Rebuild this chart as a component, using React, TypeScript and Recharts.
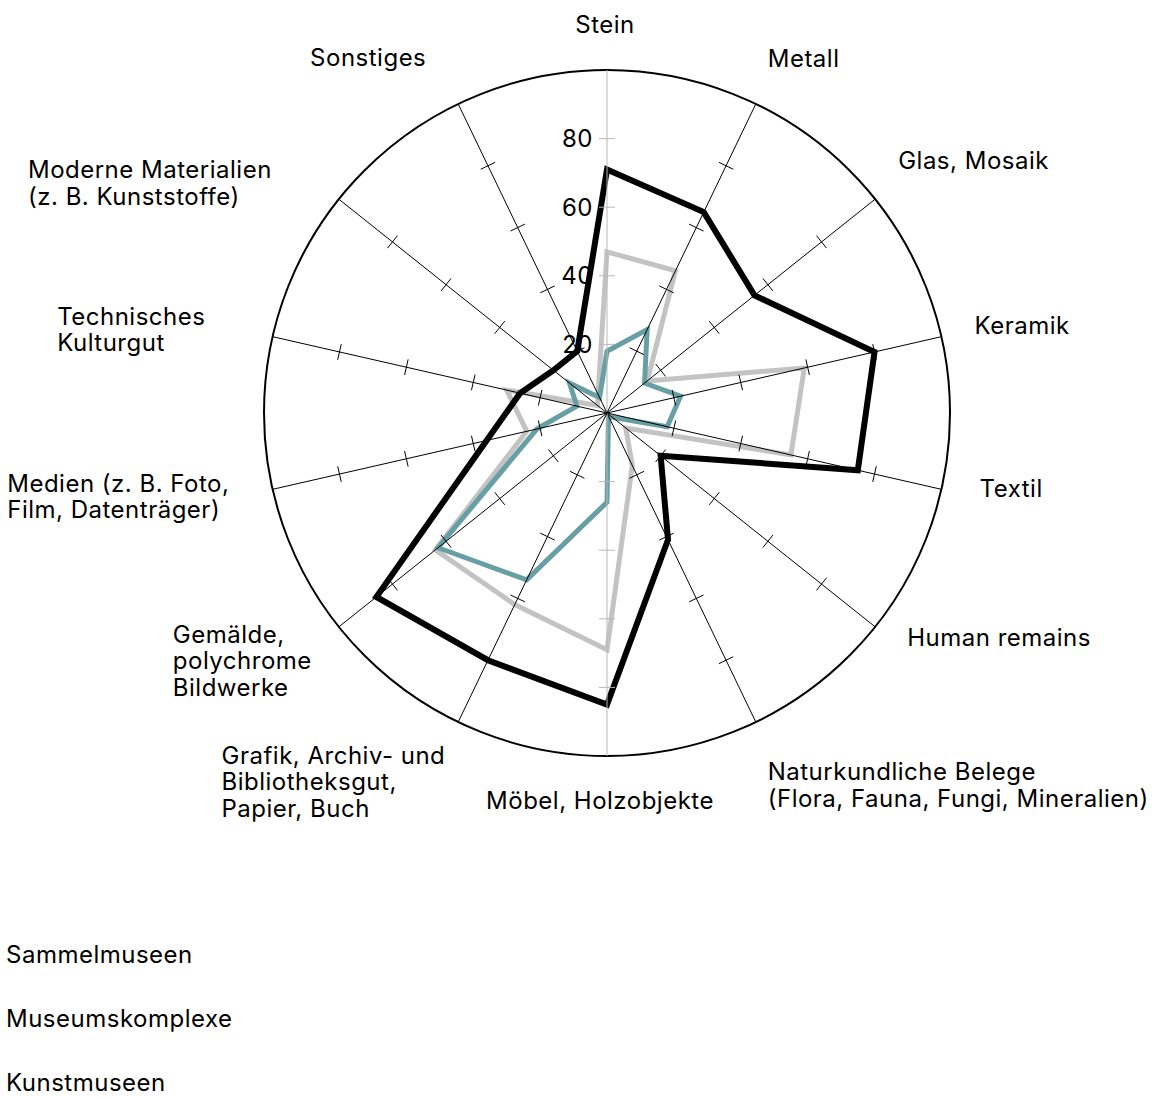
import React from "react";
import { RadarChart, Radar, PolarAngleAxis, PolarRadiusAxis, Legend } from "recharts";

// categories, clockwise from the top
const CATEGORIES = [
  "Stein",
  "Metall",
  "Glas, Mosaik",
  "Keramik",
  "Textil",
  "Human remains",
  "Naturkundliche Belege\n(Flora, Fauna, Fungi, Mineralien)",
  "Möbel, Holzobjekte",
  "Grafik, Archiv- und\nBibliotheksgut,\nPapier, Buch",
  "Gemälde,\npolychrome\nBildwerke",
  "Medien (z. B. Foto,\nFilm, Datenträger)",
  "Technisches\nKulturgut",
  "Moderne Materialien\n(z. B. Kunststoffe)",
  "Sonstiges",
];

// share of museums (%) per material
const SAMMELMUSEEN = [47, 46, 15, 59, 55, 7, 17, 69, 62, 64, 24, 30, 3.5, 6];
const MUSEUMSKOMPLEXE = [71, 65, 55, 80, 75, 20, 41, 85, 80, 86, 36, 26, 20, 20];
const KUNSTMUSEEN = [18, 27, 14, 22, 18, 2, 1, 26, 54, 63, 21, 9, 14, 5];

const SERIES = ["Sammelmuseen", "Museumskomplexe", "Kunstmuseen"];

const data = CATEGORIES.map((name, i) => ({
  name,
  Sammelmuseen: SAMMELMUSEEN[i],
  Museumskomplexe: MUSEUMSKOMPLEXE[i],
  Kunstmuseen: KUNSTMUSEEN[i],
}));

const FONT = "Inter, 'Noto Sans', sans-serif";
const FS = 24;
const LS = 0.5;
const LINE_H = 26.5;
const TICK_HALF = 8;
const AXIS_GRAY = "#b8b8b8";

// small per-label nudges (dx, dy) off the label ring
const LABEL_NUDGE: [number, number][] = [
  [-2, -13], [-2, -17], [-2, -19], [2, -4], [7, -8], [7, -9], [-2, 34],
  [-7, 13], [1, 31], [-2, 14], [-12, 0], [-36, 0], [-42, 4], [-18, -18],
];

let ctx: CanvasRenderingContext2D | null = null;
function textWidth(s: string) {
  if (!ctx) ctx = document.createElement("canvas").getContext("2d");
  if (!ctx) return s.length * (FS * 0.55 + LS);
  ctx.font = `${FS}px Inter`;
  return ctx.measureText(s).width + s.length * LS;
}

function AngleTick(props: any) {
  const { x, y, payload } = props;
  const idx = CATEGORIES.indexOf(payload.value);
  const lines: string[] = String(payload.value).split("\n");
  const cos = Math.cos((payload.coordinate * Math.PI) / 180);
  const [nx, ny] = LABEL_NUDGE[idx] ?? [0, 0];
  const w = Math.max(...lines.map(textWidth));
  let left = x + nx;
  if (Math.abs(cos) < 0.01) left = x + nx - w / 2;
  else if (cos < 0) left = x + nx - w;
  const top = y + ny - ((lines.length - 1) * LINE_H) / 2;
  return (
    <text fontFamily={FONT} fontSize={FS} letterSpacing={LS} fill="#000">
      {lines.map((l, i) => (
        <tspan key={i} x={left} y={top + i * LINE_H} dy="0.35em">
          {l}
        </tspan>
      ))}
    </text>
  );
}

function makeSpokeTick(angle: number, color: string, showLabel: boolean) {
  const rad = (angle * Math.PI) / 180;
  const px = Math.sin(rad);
  const py = Math.cos(rad);
  return (props: any) => {
    const { x, y, payload } = props;
    if (payload.value <= 0 || payload.value >= 100) return <g />;
    return (
      <g>
        <line
          x1={x - px * TICK_HALF}
          y1={y - py * TICK_HALF}
          x2={x + px * TICK_HALF}
          y2={y + py * TICK_HALF}
          stroke={color}
          strokeWidth={1}
        />
        {showLabel && (
          <text x={x - 14} y={y} dy="0.35em" textAnchor="end" fontFamily={FONT} fontSize={FS} letterSpacing={LS} fill="#000">
            {payload.value}
          </text>
        )}
      </g>
    );
  };
}

// legend keeps the series order (no sorting), text only
function LegendList() {
  return (
    <div style={{ fontFamily: FONT, fontSize: FS, letterSpacing: LS, color: "#000" }}>
      {SERIES.map((s) => (
        <div key={s} style={{ height: 64, lineHeight: "64px" }}>
          {s}
        </div>
      ))}
    </div>
  );
}

const angles = CATEGORIES.map((_, i) => 90 - (i * 360) / CATEGORIES.length);

export default function App() {
  return (
    <div style={{ position: "absolute", left: 0, top: 0, width: 1154, height: 1097, background: "#fff" }}>
      <RadarChart
        width={1154}
        height={1097}
        data={data}
        cx={607}
        cy={413}
        outerRadius={343}
        margin={{ top: 0, right: 0, bottom: 0, left: 0 }}
      >
        <PolarAngleAxis
          dataKey="name"
          tick={AngleTick}
          tickLine={false}
          tickSize={32}
          axisLineType="circle"
          stroke="#000"
          axisLine={{ stroke: "#000", strokeWidth: 2 }}
        />
        {angles.map((a, i) => {
          const vertical = i === 0 || i === CATEGORIES.length / 2;
          const color = vertical ? AXIS_GRAY : "#000";
          return (
            <PolarRadiusAxis
              key={i}
              angle={a}
              domain={[0, 100]}
              tickCount={6}
              stroke={color}
              axisLine={{ stroke: color, strokeWidth: 1 }}
              tick={makeSpokeTick(a, color, i === 0)}
            />
          );
        })}
        <Radar
          name="Sammelmuseen"
          dataKey="Sammelmuseen"
          stroke="#c3c3c3"
          strokeWidth={5}
          fill="none"
          fillOpacity={0}
          dot={false}
          isAnimationActive={false}
        />
        <Radar
          name="Museumskomplexe"
          dataKey="Museumskomplexe"
          stroke="#000"
          strokeWidth={6}
          fill="none"
          fillOpacity={0}
          dot={false}
          isAnimationActive={false}
        />
        <Radar
          name="Kunstmuseen"
          dataKey="Kunstmuseen"
          stroke="#689fa4"
          strokeWidth={5}
          fill="none"
          fillOpacity={0}
          dot={false}
          isAnimationActive={false}
        />
        <Legend
          layout="vertical"
          verticalAlign="bottom"
          align="left"
          content={LegendList}
          wrapperStyle={{ left: 6, top: 923, bottom: "auto", width: 400 }}
        />
      </RadarChart>
    </div>
  );
}
